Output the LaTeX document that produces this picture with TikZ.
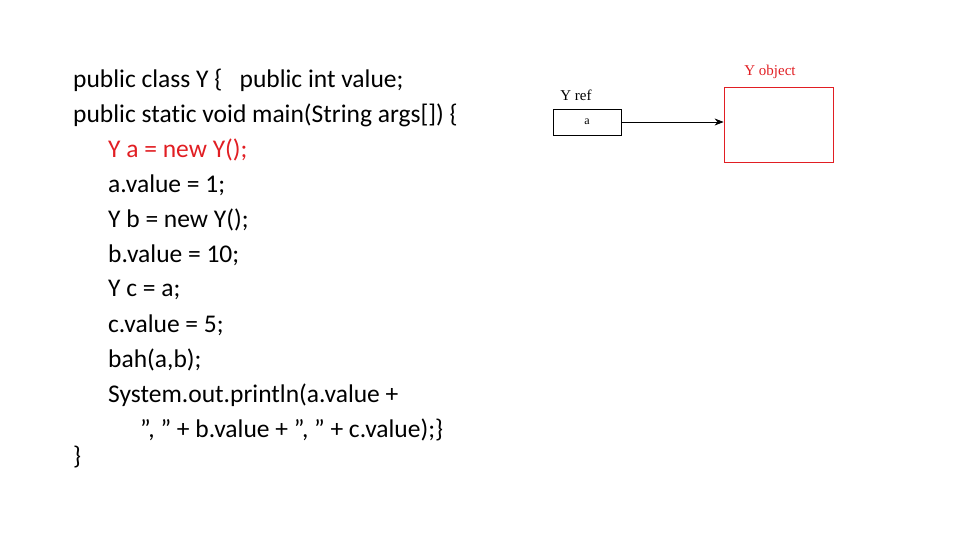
\documentclass[tikz,border=0pt]{standalone}
\usepackage{fontspec}
\usetikzlibrary{arrows.meta}
\setmainfont[Ligatures=NoCommon]{Carlito}
\newfontfamily\serf{Liberation Serif}
\definecolor{cred}{RGB}{225,30,35}
\newcommand{\dq}{\char34}
\begin{document}
\begin{tikzpicture}[x=1pt,y=-1pt,
  code/.style={anchor=west,inner sep=0pt,font=\fontsize{25.5}{30}\selectfont},
  small/.style={inner sep=0pt,font=\serf\fontsize{15}{17}\selectfont}]
\useasboundingbox (0,0) rectangle (960,540);
\node[code] (l1) at (73,80) {public class Y \{\ \ \ public int value;};
\node[code] (l2) at (73,115) {public static void main(String args[]) \{};
\node[code,text=cred] (l3) at (108,150) {Y a = new Y();};
\node[code] (l4) at (108,185) {a.value = 1;};
\node[code] (l5) at (108,220) {Y b = new Y();};
\node[code] (l6) at (108,255) {b.value = 10;};
\node[code] (l7) at (108,290) {Y c = a;};
\node[code] (l8) at (108,325) {c.value = 5;};
\node[code] (l9) at (108,360) {bah(a,b);};
\node[code] (l10) at (108,395) {System.out.println(a.value +};
\node[code] (l11) at (140,430) {\dq, \dq{} + b.value + \dq, \dq{} + c.value);\}};
\node[code] (l12) at (73,457) {\}};
\node[small] (yref) at (576,95) {Y ref};
\node[draw,thick,minimum width=68pt,minimum height=26pt,inner sep=0pt,font=\serf\fontsize{12}{14}\selectfont] (a) at (587,122) {a};
\node[draw=cred,thick,minimum width=109pt,minimum height=75pt,inner sep=0pt] (obj) at (778.5,124.5) {};
\node[small,text=cred] (ylab) at (770,72) {Y object};
\draw[thick,-{Stealth[length=9pt,width=7pt]}] (a.east) -- (obj.west|-a.east);
\end{tikzpicture}
\end{document}
